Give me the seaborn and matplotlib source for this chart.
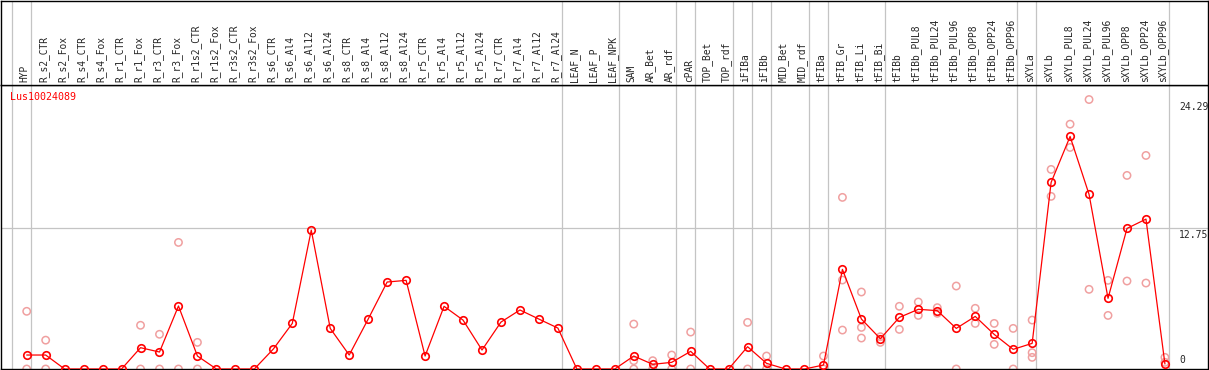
import numpy as np
import pandas as pd
import matplotlib
matplotlib.use("Agg")
import matplotlib.pyplot as plt
import matplotlib.transforms as mtransforms
import seaborn as sns


gene = "Lus10024089"

groups = [
    ["HYP"],
    ["R_s2_CTR", "R_s2_Fox", "R_s4_CTR", "R_s4_Fox", "R_r1_CTR", "R_r1_Fox",
     "R_r3_CTR", "R_r3_Fox", "R_r1s2_CTR", "R_r1s2_Fox", "R_r3s2_CTR", "R_r3s2_Fox",
     "R_s6_CTR", "R_s6_Al4", "R_s6_Al12", "R_s6_Al24", "R_s8_CTR", "R_s8_Al4",
     "R_s8_Al12", "R_s8_Al24", "R_r5_CTR", "R_r5_Al4", "R_r5_Al12", "R_r5_Al24",
     "R_r7_CTR", "R_r7_Al4", "R_r7_Al12", "R_r7_Al24"],
    ["LEAF_N", "LEAF_P", "LEAF_NPK"],
    ["SAM", "AR_Bet", "AR_rdf"],
    ["cPAR"],
    ["TOP_Bet", "TOP_rdf"],
    ["iFIBa"],
    ["iFIBb"],
    ["MID_Bet", "MID_rdf"],
    ["tFIBa"],
    ["tFIB_Gr", "tFIB_Li", "tFIB_Bi"],
    ["tFIBb", "tFIBb_PUL8", "tFIBb_PUL24", "tFIBb_PUL96", "tFIBb_OPP8",
     "tFIBb_OPP24", "tFIBb_OPP96"],
    ["sXYLa"],
    ["sXYLb", "sXYLb_PUL8", "sXYLb_PUL24", "sXYLb_PUL96", "sXYLb_OPP8",
     "sXYLb_OPP24", "sXYLb_OPP96"],
]
categories = [c for g in groups for c in g]

# mean expression per sample (red line)
means = [
    1.26,
    1.26, 0, 0, 0, 0, 1.92, 1.53, 5.68, 1.17, 0, 0, 0,
    1.80, 4.11, 12.52, 3.66, 1.26, 4.50, 7.84, 7.99,
    1.17, 5.65, 4.41, 1.71, 4.23, 5.32, 4.50, 3.69,
    0, 0, 0,
    1.17, 0.42, 0.60,
    1.59,
    0, 0,
    2.01,
    0.51,
    0, 0,
    0.36,
    8.98, 4.50, 2.73,
    4.65, 5.38, 5.26, 3.66, 4.74, 3.12, 1.77,
    2.31,
    16.82, 20.96, 15.74, 6.37, 12.67, 13.51, 0.45,
]

# individual replicates (pale circles)
rep_sample = [
    "HYP", "HYP", "R_s2_CTR", "R_s2_CTR", "R_r1_Fox", "R_r1_Fox",
    "R_r3_CTR", "R_r3_CTR", "R_r3_Fox", "R_r3_Fox", "R_r1s2_CTR", "R_r1s2_CTR",
    "SAM", "SAM", "SAM", "AR_Bet", "AR_Bet", "AR_rdf", "AR_rdf",
    "cPAR", "cPAR", "iFIBa", "iFIBa", "iFIBb", "iFIBb", "tFIBa", "tFIBa",
    "tFIB_Gr", "tFIB_Gr", "tFIB_Gr", "tFIB_Li", "tFIB_Li", "tFIB_Li",
    "tFIB_Bi", "tFIB_Bi", "tFIBb", "tFIBb", "tFIBb_PUL8", "tFIBb_PUL8",
    "tFIBb_PUL24", "tFIBb_PUL24", "tFIBb_PUL96", "tFIBb_PUL96",
    "tFIBb_OPP8", "tFIBb_OPP8", "tFIBb_OPP24", "tFIBb_OPP24",
    "tFIBb_OPP96", "tFIBb_OPP96", "sXYLa", "sXYLa", "sXYLa",
    "sXYLb", "sXYLb", "sXYLb_PUL8", "sXYLb_PUL8", "sXYLb_PUL24", "sXYLb_PUL24",
    "sXYLb_PUL96", "sXYLb_PUL96", "sXYLb_OPP8", "sXYLb_OPP8",
    "sXYLb_OPP24", "sXYLb_OPP24", "sXYLb_OPP96", "sXYLb_OPP96",
]
rep_value = [
    5.20, 0, 2.60, 0, 3.94, 0,
    3.13, 0, 11.41, 0, 2.40, 0,
    4.05, 0.75, 0, 0.75, 0, 1.26, 0,
    3.33, 0, 4.20, 0, 1.17, 0, 1.17, 0,
    15.47, 8.02, 3.51, 6.94, 3.75, 2.79,
    2.91, 2.40, 5.65, 3.57, 6.04, 4.83,
    5.53, 5.02, 7.48, 0,
    5.47, 4.11, 4.11, 2.22,
    3.66, 0, 4.41, 1.47, 1.05,
    17.99, 15.56, 22.07, 19.97, 24.29, 7.18,
    7.99, 4.83, 17.45, 7.93,
    19.25, 7.75, 1.05, 0.60,
]

y_labels = [24.29, 12.75, 0]

pos = {c: i for i, c in enumerate(categories)}
mean_df = pd.DataFrame({"pos": range(len(categories)), "value": means})
rep_df = pd.DataFrame({"pos": [pos[s] for s in rep_sample], "value": rep_value})

# group separators sit just right of the last sample in each group
bounds = [-1] + list(np.cumsum([len(g) for g in groups]) - 1)

sns.set_style("white")
mono = "DejaVu Sans Mono"
grid_c = "#c4c4c4"

fig = plt.figure(figsize=(12.09, 3.70), dpi=100)
ax = fig.add_axes([1 / 1209, 1 / 370, 1207 / 1209, 284 / 370])
ax_top = fig.add_axes([1 / 1209, 285 / 370, 1207 / 1209, 84 / 370], sharex=ax)

for a in (ax, ax_top):
    for b in bounds:
        a.axvline(b + 0.22, color=grid_c, lw=0.9, zorder=0)
    for s in a.spines.values():
        s.set_color("black")
        s.set_linewidth(1.0)
    a.set_xticks([])
    a.set_yticks([])

ax.axhline(12.75, color=grid_c, lw=0.9, zorder=0)

sns.scatterplot(data=rep_df, x="pos", y="value", ax=ax, marker="o", s=28,
                facecolors="none", edgecolor="#f0a0a0", linewidth=1.1, zorder=2)
sns.lineplot(data=mean_df, x="pos", y="value", ax=ax, color="red", lw=0.9,
             marker="o", ms=5.4, mfc="none", mec="red", mew=1.2, zorder=3)

ax.set_xlim(-1.355, 62.27)
ax.set_ylim(0, 25.6)
ax.set_xlabel("")
ax.set_ylabel("")
ax_top.set_ylim(0, 1)

lab_tr = mtransforms.blended_transform_factory(ax_top.transData, ax_top.transAxes)
for i, name in enumerate(categories):
    ax_top.text(i - 0.1, 0.035, name, rotation=90, ha="center", va="bottom",
                transform=lab_tr, family=mono, fontsize=6.9)

ax.text(0.0075, 0.959, gene, transform=ax.transAxes, color="red",
        ha="left", va="center", family=mono, fontsize=7.2)

ytr = mtransforms.blended_transform_factory(ax.transAxes, ax.transData)
for v in y_labels:
    if v == 0:
        ax.annotate("0", (0.976, v), xycoords=ytr, xytext=(0, 3),
                    textcoords="offset points", ha="left", va="bottom",
                    family=mono, fontsize=7)
    else:
        ax.annotate(f"{v:.2f}", (0.976, v), xycoords=ytr, xytext=(0, -2),
                    textcoords="offset points", ha="left", va="top",
                    family=mono, fontsize=7, annotation_clip=False)

fig.savefig("out.png", dpi=100)
